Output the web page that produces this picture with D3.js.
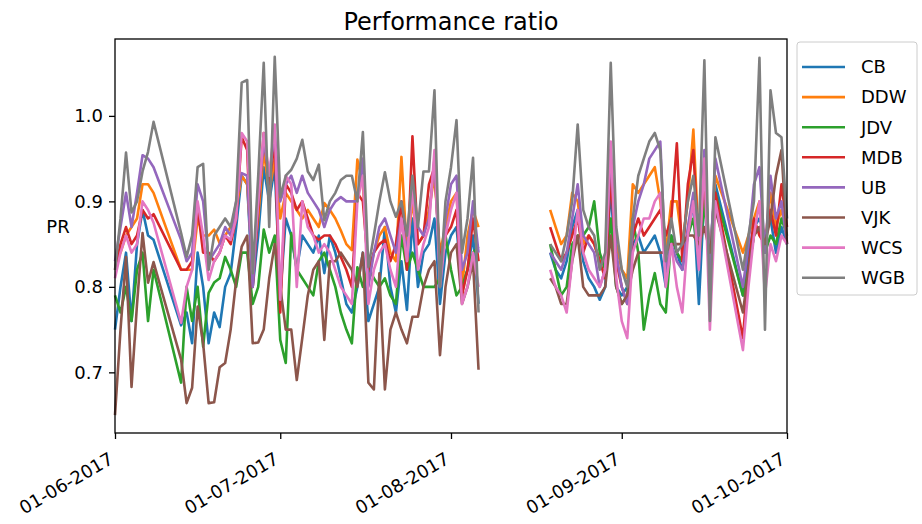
<!DOCTYPE html>
<html>
<head>
<meta charset="utf-8">
<script src="https://cdn.jsdelivr.net/npm/d3@7"></script>
<style>
  html, body { margin: 0; padding: 0; background: #fff; }
  svg text { font-family: "DejaVu Sans", sans-serif; fill: #000; }
</style>
</head>
<body>
<div id="chart"></div>
<script>
// ------------------------------------------------------------------ DATA
// gap in August is a null row (Aug 7), missing days are simply absent
const dates = [
  "2017-06-01","2017-06-02","2017-06-03","2017-06-04","2017-06-05","2017-06-06","2017-06-07","2017-06-08",
  "2017-06-13","2017-06-14","2017-06-15","2017-06-16","2017-06-17","2017-06-18","2017-06-19","2017-06-20",
  "2017-06-21","2017-06-22","2017-06-23","2017-06-24","2017-06-25","2017-06-26","2017-06-27","2017-06-28",
  "2017-06-29","2017-06-30",
  "2017-07-01","2017-07-02","2017-07-03","2017-07-04","2017-07-05","2017-07-06","2017-07-07","2017-07-08",
  "2017-07-09","2017-07-10","2017-07-11","2017-07-12","2017-07-13","2017-07-14","2017-07-15","2017-07-16",
  "2017-07-17","2017-07-18","2017-07-19","2017-07-20","2017-07-21","2017-07-22","2017-07-23","2017-07-24",
  "2017-07-25","2017-07-26","2017-07-27","2017-07-28","2017-07-29","2017-07-30","2017-07-31",
  "2017-08-01","2017-08-02","2017-08-03","2017-08-04","2017-08-05","2017-08-06",
  "2017-08-07",
  "2017-08-19","2017-08-20","2017-08-21","2017-08-22","2017-08-23","2017-08-24","2017-08-25","2017-08-26",
  "2017-08-27","2017-08-28","2017-08-29","2017-08-30","2017-08-31",
  "2017-09-01","2017-09-02","2017-09-03","2017-09-04","2017-09-05","2017-09-06","2017-09-07","2017-09-08",
  "2017-09-09","2017-09-10","2017-09-11","2017-09-12","2017-09-13","2017-09-14","2017-09-15","2017-09-16",
  "2017-09-17","2017-09-18",
  "2017-09-23","2017-09-24","2017-09-25","2017-09-26","2017-09-27","2017-09-28","2017-09-29","2017-09-30",
  "2017-10-01"
];

const CB = [
  0.75,0.80,0.84,0.76,0.85,0.89,0.86,0.855,
  0.755,0.77,0.734,0.84,0.80,0.734,0.77,0.753,0.80,0.816,0.87,0.93,0.92,0.80,0.86,0.94,0.90,0.94,
  0.79,0.88,0.86,0.82,0.86,0.85,0.84,0.86,0.816,0.86,0.84,0.81,0.78,0.77,0.80,0.84,0.76,0.78,0.80,0.87,
  0.80,0.77,0.83,0.773,0.88,0.80,0.84,0.85,0.88,0.78,0.84,
  0.86,0.87,0.80,0.82,0.86,0.78,
  null,
  0.84,0.82,0.81,0.83,0.87,0.89,0.83,0.81,0.80,0.785,0.80,0.92,0.80,
  0.79,0.80,0.85,0.86,0.84,0.85,0.86,0.84,0.80,0.86,0.84,0.82,0.86,0.90,0.78,0.91,0.84,0.92,
  0.79,0.84,0.87,0.88,0.86,0.88,0.84,0.87,0.85
];
const DDW = [
  0.83,0.84,0.86,0.87,0.88,0.92,0.92,0.91,
  0.82,0.82,0.82,0.88,0.86,0.86,0.867,0.851,0.86,0.87,0.89,0.93,0.92,0.82,0.88,0.96,0.91,0.95,
  0.88,0.91,0.90,0.89,0.88,0.89,0.88,0.87,0.898,0.89,0.88,0.866,0.85,0.843,0.949,0.92,0.81,0.84,0.86,0.87,
  0.84,0.83,0.952,0.84,0.90,0.85,0.86,0.89,0.93,0.84,0.87,
  0.90,0.91,0.80,0.86,0.89,0.87,
  null,
  0.89,0.87,0.85,0.86,0.91,0.90,0.85,0.86,0.85,0.83,0.83,0.95,0.85,
  0.82,0.81,0.92,0.91,0.92,0.93,0.94,0.90,0.84,0.90,0.90,0.85,0.90,0.984,0.85,0.94,0.83,0.93,
  0.84,0.86,0.88,0.90,0.85,0.91,0.87,0.89,0.86
];
const JDV = [
  0.79,0.77,0.80,0.76,0.82,0.84,0.76,0.82,
  0.688,0.80,0.76,0.80,0.73,0.793,0.805,0.81,0.835,0.82,0.80,0.84,0.84,0.78,0.80,0.867,0.84,0.86,
  0.738,0.711,0.863,0.82,0.81,0.80,0.79,0.83,0.84,0.82,0.80,0.77,0.75,0.734,0.823,0.80,0.823,0.81,0.80,0.81,
  0.79,0.78,0.86,0.82,0.84,0.82,0.80,0.80,0.80,0.81,0.86,
  0.82,0.79,0.80,0.82,0.84,0.847,
  null,
  0.85,0.82,0.79,0.80,0.85,0.86,0.86,0.87,0.90,0.84,0.82,0.88,0.80,
  0.78,0.79,0.88,0.84,0.75,0.79,0.816,0.78,0.77,0.86,0.84,0.83,0.86,0.88,0.83,0.90,0.82,0.91,
  0.79,0.82,0.86,0.87,0.84,0.86,0.85,0.88,0.86
];
const MDB = [
  0.82,0.85,0.87,0.85,0.86,0.89,0.88,0.885,
  0.82,0.82,0.83,0.893,0.84,0.84,0.83,0.84,0.86,0.85,0.88,0.975,0.96,0.80,0.89,0.98,0.92,0.97,
  0.77,0.92,0.91,0.89,0.90,0.88,0.86,0.855,0.86,0.86,0.85,0.835,0.82,0.80,0.91,0.90,0.82,0.84,0.85,0.855,
  0.83,0.85,0.90,0.82,0.976,0.85,0.86,0.92,0.94,0.83,0.86,
  0.87,0.89,0.79,0.82,0.88,0.83,
  null,
  0.87,0.85,0.83,0.84,0.86,0.88,0.84,0.86,0.85,0.83,0.81,0.93,0.83,
  0.80,0.78,0.86,0.88,0.86,0.87,0.88,0.89,0.86,0.88,0.968,0.83,0.92,0.96,0.84,0.93,0.82,0.91,
  0.74,0.82,0.88,0.86,0.85,0.89,0.86,0.92,0.87
];
const UB = [
  0.83,0.87,0.91,0.87,0.91,0.954,0.95,0.94,
  0.855,0.83,0.84,0.92,0.90,0.83,0.84,0.85,0.87,0.86,0.90,0.933,0.93,0.80,0.90,0.97,0.93,0.98,
  0.90,0.92,0.93,0.91,0.93,0.91,0.90,0.89,0.87,0.89,0.90,0.905,0.90,0.90,0.90,0.95,0.80,0.84,0.87,0.88,
  0.86,0.84,0.88,0.84,0.92,0.87,0.86,0.88,0.95,0.81,0.88,
  0.92,0.93,0.82,0.84,0.90,0.84,
  null,
  0.84,0.83,0.82,0.84,0.88,0.92,0.86,0.85,0.84,0.80,0.82,0.96,0.84,
  0.80,0.78,0.87,0.90,0.92,0.95,0.96,0.97,0.82,0.85,0.83,0.82,0.87,0.91,0.83,0.96,0.82,0.95,
  0.80,0.85,0.92,0.94,0.84,0.93,0.88,0.90,0.85
];
const VJK = [
  0.65,0.75,0.835,0.683,0.78,0.863,0.805,0.829,
  0.715,0.664,0.682,0.777,0.734,0.664,0.665,0.706,0.711,0.75,0.808,0.847,0.86,0.734,0.735,0.75,0.81,0.85,
  0.80,0.75,0.75,0.691,0.74,0.79,0.82,0.83,0.738,0.83,0.83,0.84,0.83,0.82,0.80,0.84,0.688,0.68,0.816,0.68,
  0.75,0.77,0.75,0.734,0.765,0.765,0.80,0.82,0.83,0.72,0.80,
  0.84,0.85,0.78,0.80,0.83,0.703,
  null,
  0.81,0.80,0.78,0.78,0.83,0.86,0.80,0.79,0.79,0.79,0.80,0.86,0.80,
  0.78,0.79,0.82,0.84,0.84,0.84,0.84,0.84,0.84,0.85,0.85,0.85,0.86,0.86,0.85,0.87,0.84,0.89,
  0.77,0.82,0.86,0.87,0.85,0.88,0.93,0.96,0.85
];
const WCS = [
  0.81,0.84,0.86,0.84,0.85,0.90,0.89,0.875,
  0.758,0.80,0.82,0.90,0.86,0.808,0.83,0.84,0.86,0.855,0.88,0.98,0.97,0.82,0.90,0.98,0.93,0.99,
  0.785,0.93,0.92,0.80,0.90,0.87,0.86,0.84,0.85,0.84,0.82,0.80,0.79,0.78,0.90,0.93,0.78,0.82,0.84,0.85,
  0.82,0.80,0.88,0.83,0.92,0.82,0.85,0.87,0.96,0.80,0.86,
  0.89,0.91,0.78,0.80,0.84,0.80,
  null,
  0.82,0.80,0.79,0.77,0.83,0.89,0.84,0.82,0.81,0.80,0.82,0.97,0.81,
  0.76,0.74,0.84,0.86,0.88,0.88,0.90,0.91,0.80,0.85,0.80,0.77,0.86,0.90,0.82,0.95,0.75,0.90,
  0.726,0.80,0.86,0.90,0.79,0.85,0.83,0.86,0.85
];
const WGB = [
  0.82,0.88,0.957,0.887,0.90,0.935,0.958,0.993,
  0.863,0.835,0.86,0.94,0.944,0.82,0.86,0.87,0.88,0.87,0.90,1.039,1.042,0.816,0.93,1.062,0.87,1.069,
  0.905,0.93,0.937,0.95,0.972,0.935,0.925,0.943,0.878,0.90,0.91,0.925,0.93,0.93,0.90,0.981,0.823,0.86,0.90,0.934,
  0.90,0.882,0.90,0.86,0.93,0.87,0.935,0.935,1.03,0.80,0.90,
  0.94,0.995,0.84,0.88,0.951,0.77,
  null,
  0.85,0.84,0.83,0.86,0.90,0.99,0.89,0.87,0.86,0.82,0.84,1.062,0.87,
  0.82,0.80,0.88,0.93,0.95,0.97,0.98,0.96,0.83,0.88,0.84,0.85,0.90,0.93,0.86,1.065,0.76,0.975,
  0.82,0.86,0.90,1.068,0.75,1.03,0.98,0.975,0.88
];

const seriesNames = ["CB", "DDW", "JDV", "MDB", "UB", "VJK", "WCS", "WGB"];
const seriesValues = [CB, DDW, JDV, MDB, UB, VJK, WCS, WGB];
const colours = ["#1f77b4", "#ff7f0e", "#2ca02c", "#d62728", "#9467bd", "#8c564b", "#e377c2", "#7f7f7f"];
const xTicks = ["2017-06-01", "2017-07-01", "2017-08-01", "2017-09-01", "2017-10-01"];
const yTicks = [0.7, 0.8, 0.9, 1.0];

// ------------------------------------------------------------------ SETUP
const W = 922, H = 524;
const plot = { left: 115, right: 787, top: 39, bottom: 433 };
const parse = d3.timeParse("%Y-%m-%d");
const days = dates.map(parse);

const svg = d3.select("#chart").append("svg")
  .attr("width", W)
  .attr("height", H)
  .style("background", "#fff");

const x = d3.scaleTime()
  .domain([days[0], days[days.length - 1]])
  .range([plot.left, plot.right]);

const allVals = seriesValues.flat().filter(v => v != null);
const [lo, hi] = d3.extent(allVals);
const pad = (hi - lo) * 0.05;   // matplotlib style margin
const y = d3.scaleLinear()
  .domain([lo - pad, hi + pad])
  .range([plot.bottom, plot.top]);

// ------------------------------------------------------------------ LINES
const line = d3.line()
  .defined(d => d.v != null)
  .x(d => x(d.t))
  .y(d => y(d.v));

svg.append("g")
  .selectAll("path")
  .data(seriesValues)
  .join("path")
  .attr("d", vals => line(vals.map((v, i) => ({ t: days[i], v }))))
  .attr("fill", "none")
  .attr("stroke", (d, i) => colours[i])
  .attr("stroke-width", 2.6)
  .attr("stroke-linejoin", "round");

// ------------------------------------------------------------------ AXES
const xAxis = svg.append("g")
  .attr("transform", `translate(0,${plot.bottom})`)
  .call(d3.axisBottom(x)
    .tickValues(xTicks.map(parse))
    .tickFormat(d3.timeFormat("%d-%m-%Y"))
    .tickSize(6)
    .tickSizeOuter(0));

xAxis.selectAll("text")
  .attr("font-size", 18)
  .attr("text-anchor", "end")
  .attr("y", 0)
  .attr("dy", "0.8em")
  .attr("transform", "translate(-8,17) rotate(-30)");

const yAxis = svg.append("g")
  .attr("transform", `translate(${plot.left},0)`)
  .call(d3.axisLeft(y)
    .tickValues(yTicks)
    .tickFormat(d3.format(".1f"))
    .tickSize(6)
    .tickSizeOuter(0));

yAxis.selectAll("text")
  .attr("font-size", 18)
  .attr("x", -12);

svg.selectAll(".domain").remove();
svg.selectAll(".tick line").attr("stroke", "#000").attr("stroke-width", 1.3);
svg.selectAll(".tick text").attr("font-family", "DejaVu Sans").attr("fill", "#000");

// frame
svg.append("rect")
  .attr("x", plot.left)
  .attr("y", plot.top)
  .attr("width", plot.right - plot.left)
  .attr("height", plot.bottom - plot.top)
  .attr("fill", "none")
  .attr("stroke", "#000")
  .attr("stroke-width", 1.3);

// ------------------------------------------------------------------ TITLES
svg.append("text")
  .attr("x", (plot.left + plot.right) / 2)
  .attr("y", 30)
  .attr("text-anchor", "middle")
  .attr("font-size", 24)
  .text("Performance ratio");

svg.append("text")
  .attr("x", 58)
  .attr("y", 233)
  .attr("text-anchor", "middle")
  .attr("font-size", 18)
  .text("PR");

// ------------------------------------------------------------------ LEGEND
const legend = svg.append("g");

legend.append("rect")
  .attr("x", 797)
  .attr("y", 42)
  .attr("width", 120)
  .attr("height", 253)
  .attr("rx", 3)
  .attr("fill", "#fff")
  .attr("fill-opacity", 0.8)
  .attr("stroke", "#cccccc");

const row = legend.selectAll("g.row")
  .data(seriesNames)
  .join("g")
  .attr("class", "row")
  .attr("transform", (d, i) => `translate(0,${67 + i * 30.1})`);

row.append("line")
  .attr("x1", 802)
  .attr("x2", 845)
  .attr("stroke", (d, i) => colours[i])
  .attr("stroke-width", 2.6);

row.append("text")
  .attr("x", 861)
  .attr("dy", "0.35em")
  .attr("font-size", 18)
  .text(d => d);
</script>
</body>
</html>
